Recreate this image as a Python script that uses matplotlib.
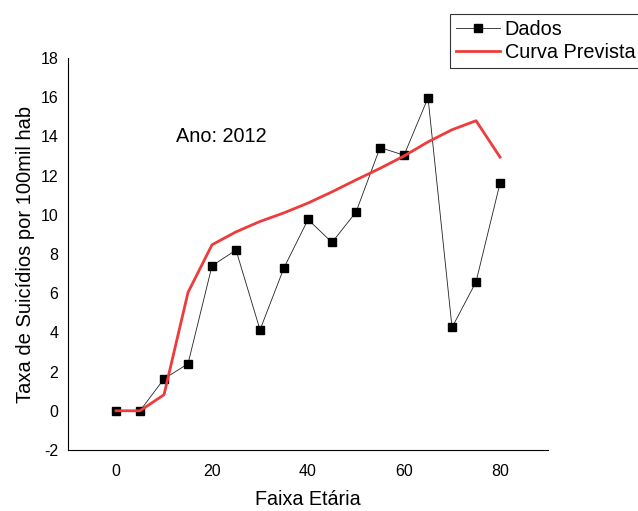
import matplotlib.pyplot as plt

plt.rcParams['font.family'] = ['Liberation Sans', 'DejaVu Sans']
plt.rcParams['axes.unicode_minus'] = False

# Faixa etária e taxas
idade = [0, 5, 10, 15, 20, 25, 30, 35, 40, 45, 50, 55, 60, 65, 70, 75, 80]
dados = [0, 0, 1.63, 2.4, 7.4, 8.2, 4.13, 7.3, 9.76, 8.59, 10.14, 13.43, 13.04, 15.97, 4.25, 6.58, 11.62]
prevista = [0, 0, 0.82, 6.04, 8.47, 9.13, 9.66, 10.1, 10.6, 11.17, 11.78, 12.37, 13.0, 13.72, 14.34, 14.8, 12.94]
xticks = [0, 20, 40, 60, 80]
yticks = [-2, 0, 2, 4, 6, 8, 10, 12, 14, 16, 18]

fig = plt.figure(figsize=(6.38, 5.11), dpi=100)
ax = fig.add_axes([0.1066, 0.1194, 0.7524, 0.7671])

ax.plot(idade, dados, color="#222222", linewidth=0.6, marker="s", markersize=6.2,
        markerfacecolor="black", markeredgecolor="black", label="Dados")
ax.plot(idade, prevista, color="#EE3B3B", linewidth=2.0, label="Curva Prevista")

ax.set_xlim(-10, 90)
ax.set_ylim(-2, 18)
ax.set_xticks(xticks)
ax.set_yticks(yticks)
ax.tick_params(length=0, labelsize=11.5)
ax.tick_params(axis="x", pad=10)
ax.tick_params(axis="y", pad=7)
for s in ["top", "right"]:
    ax.spines[s].set_visible(False)

ax.set_xlabel("Faixa Etária", fontsize=14.2, labelpad=8)
ax.set_ylabel("Taxa de Suicídios por 100mil hab", fontsize=14.5, labelpad=4)

ax.text(12.5, 14, "Ano: 2012", fontsize=14.3, va="center", ha="left")

leg = fig.legend(loc="upper left", bbox_to_anchor=(450 / 638, 1 - 14 / 511),
                 fontsize=14.3, frameon=True, fancybox=False, edgecolor="black",
                 handlelength=2.2, borderpad=0.3, labelspacing=0.22,
                 handletextpad=0.25, borderaxespad=0, markerscale=0.9)
leg.get_frame().set_linewidth(0.8)

fig.savefig("out.png", dpi=100)
